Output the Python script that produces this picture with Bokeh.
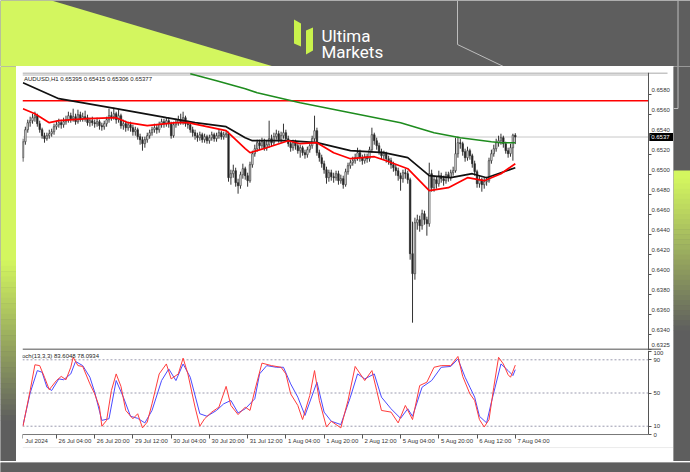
from bokeh.plotting import figure
from bokeh.models import (Range1d, FixedTicker, CustomJSTickFormatter, ColumnDataSource)
from bokeh.layouts import column, row
from bokeh.embed import file_html
from bokeh.resources import INLINE
from bokeh.core.properties import value

# ---------------- data (AUDUSD H1) ----------------
first_open = 0.6517
closes = [
    .6533, .6545, .6552, .6554, .6557, .6559, .6551, .6545, .6539, .6536,
    .6539, .6541, .6543, .6548, .6550, .6552, .6550, .6553, .6555, .6559,
    .6556, .6558, .6553, .6560, .6556, .6558, .6557, .6552, .6554, .6552,
    .6551, .6553, .6549, .6548, .6551, .6555, .6559, .6558, .6561, .6555,
    .6559, .6549, .6551, .6547, .6550, .6547, .6543, .6545, .6538, .6535,
    .6531, .6535, .6539, .6542, .6545, .6547, .6545, .6550, .6553, .6551,
    .6554, .6551, .6539, .6550, .6552, .6555, .6553, .6557, .6551, .6550,
    .6545, .6542, .6539, .6537, .6540, .6535, .6538, .6534, .6537, .6540,
    .6536, .6539, .6542, .6538, .6540, .6541, .6497, .6501, .6504, .6492,
    .6489, .6500, .6506, .6499, .6494, .6510, .6521, .6526, .6532, .6529,
    .6533, .6527, .6530, .6536, .6532, .6538, .6541, .6535, .6539, .6542,
    .6536, .6531, .6527, .6532, .6529, .6524, .6527, .6522, .6520, .6525,
    .6529, .6536, .6544, .6522, .6517, .6511, .6505, .6497, .6502, .6498,
    .6497, .6501, .6494, .6496, .6490, .6503, .6509, .6512, .6514, .6517,
    .6522, .6517, .6514, .6518, .6516, .6525, .6540, .6534, .6529, .6523,
    .6519, .6521, .6516, .6514, .6510, .6507, .6504, .6499, .6496, .6502,
    .6501, .6495, .6421, .6401, .6452, .6455, .6449, .6461, .6455, .6451,
    .6501, .6487, .6495, .6491, .6499, .6496, .6494, .6500, .6497, .6502,
    .6504, .6521, .6532, .6531, .6523, .6517, .6524, .6519, .6511, .6503,
    .6491, .6495, .6490, .6493, .6494, .6514, .6521, .6526, .6532, .6534,
    .6537, .6531, .6524, .6521, .6527, .65395, .65377]
highs = [
    .6536, .6548, .6555, .6558, .6561, .6563, .6561, .6554, .6547, .6542,
    .6542, .6545, .6546, .6551, .6554, .6556, .6555, .6557, .6559, .6563,
    .6562, .6566, .6561, .6565, .6563, .6562, .6564, .6560, .6557, .6558,
    .6555, .6557, .6555, .6552, .6554, .6558, .6566, .6563, .6567, .6563,
    .6565, .6561, .6555, .6554, .6553, .6553, .6550, .6548, .6547, .6541,
    .6538, .6538, .6542, .6545, .6548, .6551, .6550, .6553, .6556, .6556,
    .6557, .6557, .6553, .6553, .6556, .6559, .6561, .6563, .6559, .6554,
    .6552, .6548, .6545, .6542, .6543, .6542, .6541, .6540, .6540, .6543,
    .6542, .6542, .6545, .6544, .6543, .6544, .6543, .6505, .6510, .6507,
    .6496, .6503, .6511, .6508, .6502, .6513, .6524, .6530, .6535, .6535,
    .6537, .6536, .6534, .6554, .6540, .6542, .6545, .6544, .6543, .6551,
    .6545, .6539, .6534, .6535, .6535, .6532, .6530, .6529, .6525, .6528,
    .6532, .6539, .6559, .6547, .6525, .6520, .6514, .6508, .6505, .6505,
    .6502, .6504, .6504, .6500, .6499, .6506, .6512, .6515, .6518, .6521,
    .6527, .6525, .6520, .6521, .6521, .6528, .6547, .6542, .6537, .6532,
    .6526, .6524, .6523, .6519, .6517, .6513, .6510, .6507, .6502, .6505,
    .6506, .6504, .6497, .6453, .6457, .6460, .6459, .6465, .6464, .6458,
    .6512, .6505, .6499, .6498, .6504, .6502, .6499, .6503, .6503, .6505,
    .6508, .6537, .6538, .6536, .6533, .6526, .6528, .6526, .6521, .6514,
    .6505, .6499, .6497, .6497, .6498, .6517, .6525, .6530, .6536, .6539,
    .6541, .6539, .6533, .6527, .6531, .6541, .65415]
lows = [
    .6513, .6530, .6542, .6548, .6551, .6553, .6548, .6542, .6536, .6532,
    .6534, .6536, .6538, .6540, .6545, .6547, .6546, .6547, .6550, .6552,
    .6552, .6553, .6550, .6551, .6553, .6553, .6553, .6549, .6548, .6549,
    .6547, .6548, .6545, .6544, .6545, .6548, .6552, .6554, .6555, .6551,
    .6552, .6546, .6545, .6543, .6544, .6543, .6539, .6539, .6535, .6530,
    .6524, .6527, .6532, .6536, .6539, .6542, .6541, .6542, .6547, .6547,
    .6548, .6547, .6536, .6537, .6547, .6549, .6550, .6550, .6548, .6546,
    .6542, .6538, .6535, .6533, .6534, .6532, .6532, .6531, .6531, .6534,
    .6533, .6533, .6536, .6535, .6535, .6537, .6493, .6490, .6497, .6488,
    .6481, .6486, .6496, .6495, .6488, .6492, .6507, .6518, .6523, .6525,
    .6526, .6524, .6524, .6527, .6528, .6529, .6535, .6532, .6532, .6536,
    .6533, .6528, .6523, .6524, .6525, .6521, .6517, .6519, .6516, .6517,
    .6522, .6526, .6533, .6519, .6513, .6507, .6501, .6491, .6493, .6494,
    .6492, .6494, .6490, .6491, .6486, .6488, .6500, .6506, .6509, .6511,
    .6514, .6513, .6510, .6511, .6512, .6513, .6522, .6530, .6525, .6520,
    .6515, .6515, .6512, .6510, .6506, .6503, .6499, .6494, .6484, .6492,
    .6496, .6491, .6415, .6352, .6395, .6445, .6443, .6445, .6450, .6439,
    .6448, .6483, .6483, .6486, .6488, .6492, .6489, .6491, .6493, .6494,
    .6499, .6502, .6517, .6526, .6519, .6513, .6514, .6515, .6507, .6499,
    .6487, .6487, .6483, .6486, .6489, .6492, .6511, .6518, .6523, .6528,
    .6530, .6527, .6521, .6517, .6518, .6514, .65306]

# moving averages (bar index, price)
ma_green_idx = [70, 81, 93, 98, 116, 137, 158, 172, 183, 196, 200, 206]
ma_green_val = [0.6601, 0.6594, 0.6586, 0.6582, 0.6572, 0.6562, 0.6552, 0.6542, 0.6537, 0.6533, 0.6532, 0.6532]
ma_black_idx = [0, 15, 39, 60, 72, 85, 93, 96, 111, 123, 137, 151, 161, 170, 179, 188, 194, 200, 206]
ma_black_val = [0.6592, 0.6576, 0.6566, 0.6557, 0.6552, 0.6548, 0.6537, 0.6534, 0.6534, 0.6532, 0.6524,
                0.6522, 0.6517, 0.6499, 0.6497, 0.6501, 0.6497, 0.6502, 0.6507]
ma_red_idx = [0, 5, 11, 15, 27, 39, 44, 52, 64, 69, 79, 85, 93, 95, 102, 111, 116, 123, 130, 137, 147,
              152, 161, 170, 178, 186, 193, 200, 206]
ma_red_val = [0.6566, 0.6561, 0.6552, 0.6554, 0.6556, 0.6557, 0.6552, 0.6549, 0.6552, 0.6552, 0.6547,
              0.6544, 0.6526, 0.6522, 0.6527, 0.6534, 0.6531, 0.6532, 0.6522, 0.6516, 0.6518, 0.6514,
              0.6506, 0.6484, 0.6487, 0.6497, 0.6494, 0.6501, 0.6511]
resistance = 0.6574
last_price = 0.65377
last_price_tag = "0.6537"

# stochastic (13,3,3)
stoch_k_idx = [0, 3, 5, 7, 9, 11, 14, 16, 18, 20, 21, 23, 25, 28, 30, 32, 33, 35, 37, 39, 41, 43, 46, 48,
               50, 52, 54, 57, 60, 62, 65, 67, 69, 72, 74, 76, 79, 82, 85, 87, 90, 93, 95, 97, 100, 104,
               108, 110, 112, 115, 117, 120, 122, 124, 127, 129, 133, 136, 139, 143, 146, 148, 150, 154,
               157, 160, 163, 166, 169, 172, 175, 179, 182, 184, 187, 189, 191, 193, 195, 197, 199, 201,
               203, 204, 205, 206]
stoch_k_val = [10, 53, 84, 83, 69, 54, 65, 70, 66, 81, 93, 83, 82, 61, 49, 33, 10, 17, 53, 73, 58, 29, 19,
               25, 8, 15, 37, 73, 85, 67, 73, 92, 73, 33, 10, 19, 27, 33, 58, 35, 24, 33, 29, 53, 86, 83,
               81, 73, 49, 35, 18, 47, 77, 41, 9, 16, 8, 41, 82, 65, 77, 53, 29, 27, 14, 35, 18, 59, 63,
               81, 83, 83, 94, 70, 49, 41, 18, 9, 18, 57, 93, 85, 72, 69, 76, 83.6]
stoch_d_idx = [0, 3, 6, 8, 10, 12, 15, 17, 20, 22, 25, 28, 30, 33, 36, 39, 42, 45, 48, 51, 54, 58, 61, 64,
               67, 70, 74, 77, 81, 84, 87, 90, 93, 97, 99, 102, 106, 109, 112, 115, 118, 123, 126, 129,
               133, 137, 140, 143, 147, 150, 154, 158, 161, 163, 167, 171, 175, 179, 182, 185, 187, 189,
               191, 194, 196, 200, 203, 205, 206]
stoch_d_val = [11, 50, 77, 75, 57, 53, 67, 66, 73, 88, 83, 69, 51, 17, 19, 65, 45, 22, 19.5, 14, 29, 65,
               79, 65, 85, 69, 25, 22, 29, 37, 41, 26, 31, 43, 73, 83, 81, 81, 61, 45, 23, 63, 27, 16, 12,
               45, 73, 67, 73, 45, 31, 19.5, 31, 22, 57, 65, 81, 82, 91, 69, 57, 45, 22, 14, 39, 85, 77,
               71, 78.1]
stoch_levels = [10, 50, 90]
stoch_ticks = [0, 10, 50, 90, 100]

price_ticks = [0.6580, 0.6560, 0.6540, 0.6520, 0.6500, 0.6480, 0.6460, 0.6440, 0.6420, 0.6400,
               0.6380, 0.6360, 0.6340, 0.6325]
time_tick_idx = [0, 14, 30, 46, 62, 78, 94, 110, 126, 142, 158, 174, 190, 206]
time_tick_lbl = ["Jul 2024", "26 Jul 04:00", "26 Jul 20:00", "29 Jul 12:00", "30 Jul 04:00",
                 "30 Jul 20:00", "31 Jul 12:00", "1 Aug 04:00", "1 Aug 20:00", "2 Aug 12:00",
                 "5 Aug 04:00", "5 Aug 20:00", "6 Aug 12:00", "7 Aug 04:00"]

# ---------------- layout constants (not data) ----------------
BG = "#5e5e5e"
LIME = "#d3f65f"
LINE_GRAY = "#bdbdbd"
FONT = "Liberation Sans"
X0, X_AXIS, X_END = -0.2, 261.7, 272.2      # chart window left, price-scale line, card edge
P_LO, P_HI = 0.63242, 0.66022               # visible price window
S_LO, S_HI = -32.5, 101.2                   # stochastic window incl. time-label strip


def mix(c1, c2, t):
    a = [int(c1[i:i + 2], 16) for i in (1, 3, 5)]
    b = [int(c2[i:i + 2], 16) for i in (1, 3, 5)]
    return "#%02x%02x%02x" % tuple(round(a[k] + (b[k] - a[k]) * t) for k in range(3))


def deco_fig(w, h, x0, x1, y0, y1):
    # a decoration panel whose data units are page pixels (y grows downward)
    f = figure(width=w, height=h, x_range=Range1d(x0, x1), y_range=Range1d(y1, y0),
               toolbar_location=None, output_backend="svg", min_border=0,
               x_axis_location=None, y_axis_location=None,
               background_fill_color=BG, border_fill_color=BG, outline_line_color=None)
    f.grid.visible = False
    return f


def strip(f, x0, x1, bands):
    L, R, T, B, C = [], [], [], [], []
    for top, bot, c1, c2 in bands:
        steps = 1 if c1 == c2 else 30
        h = (bot - top) / steps
        for k in range(steps):
            L.append(x0); R.append(x1)
            T.append(top + k * h); B.append(top + (k + 1) * h + 0.5)
            C.append(mix(c1, c2, (k + 0.5) / steps))
    f.quad(left=L, right=R, top=T, bottom=B, fill_color=C, line_color=None)


# ---------------- header (logo band) ----------------
hdr = deco_fig(690, 66, 0, 690, 0, 66)
hdr.patch([0, 51, 273, 0], [0, 0, 66, 66], fill_color=LIME, line_color=None)
hdr.line([457, 457, 503], [0, 44, 66], line_color=LINE_GRAY, line_width=1)
hdr.line([677.5, 677.5], [0, 66], line_color=LINE_GRAY, line_width=1)
hdr.patch([293.5, 300.5, 300.5, 293.5], [19, 23, 46, 43], fill_color="#c9f24c", line_color=None)
hdr.patch([305.5, 312.5, 312.5, 305.5], [30, 27, 50, 54], fill_color="#c9f24c", line_color=None)
hdr.text(x=[321, 321], y=[35, 51], text=["Ultima", "Markets"], text_color="#ffffff",
         text_font=value("Roboto"), text_font_size="17px", text_baseline="alphabetic",
         text_align="left")

# ---------------- side strips ----------------
left = deco_fig(16, 395, 0, 16, 66, 461)
strip(left, 0, 16, [(66, 260, LIME, LIME), (260, 420, LIME, BG), (420, 461, BG, BG)])
right = deco_fig(17, 395, 673, 690, 66, 461)
strip(right, 673, 690, [(66, 170, BG, BG), (170, 178, LIME, LIME), (178, 330, LIME, BG),
                        (330, 461, BG, BG)])
right.line([677.5, 677.5, 673], [66, 108, 108], line_color=LINE_GRAY, line_width=1)

foot = deco_fig(690, 11, 0, 690, 461, 472)
foot.quad(left=[0], right=[690], top=[461], bottom=[472], fill_color=BG, line_color=None)


def style_axis(ax):
    ax.axis_line_color = "#555555"
    ax.major_tick_line_color = "#555555"
    ax.major_tick_out = 3
    ax.major_tick_in = 0
    ax.minor_tick_out = 0
    ax.minor_tick_in = 0
    ax.major_label_standoff = 2
    ax.major_label_text_font = FONT
    ax.major_label_text_font_size = "6px"
    ax.major_label_text_color = "#333333"


def hline(f, y, x1, color, width, dash="solid"):
    f.line([X0, x1], [y, y], line_color=color, line_width=width, line_dash=dash)


def small_text(f, xs, ys, texts, align="left", color="#333333", y_offset=0):
    f.text(x=xs, y=ys, text=texts, text_font=value(FONT), text_font_size="6px",
           text_color=color, text_baseline="middle", text_align=align, y_offset=y_offset)


# ---------------- price panel ----------------
n = len(closes)
opens = [first_open] + closes[:-1]
src = ColumnDataSource(dict(
    i=list(range(n)), h=highs, l=lows,
    top=[max(a, b) for a, b in zip(opens, closes)],
    bot=[min(a, b) for a, b in zip(opens, closes)],
    fill=["#ffffff" if c >= o else "#1e1e1e" for o, c in zip(opens, closes)],
))

xr = Range1d(X0, X_END)
pA = figure(width=657, height=284, x_range=xr, y_range=Range1d(P_LO, P_HI),
            x_axis_location=None, y_axis_location="right", toolbar_location=None,
            output_backend="svg", min_border_left=6, min_border_right=0,
            min_border_top=6, min_border_bottom=0, border_fill_color="#ffffff",
            background_fill_color="#ffffff", outline_line_color=None)
pA.xgrid.visible = False
pA.ygrid.visible = False

hline(pA, P_HI - 0.00005, 269.7, "#8c8c8c", 1)
hline(pA, P_HI - 0.00025, X_AXIS, "#b4b4b4", 1)
hline(pA, P_LO + 0.0001, 267.0, "#8a8a8a", 2)
hline(pA, last_price, X_AXIS, "#c8c8c8", 1)
pA.segment(x0="i", y0="l", x1="i", y1="h", source=src, line_color="#333333", line_width=1)
pA.vbar(x="i", width=0.62, top="top", bottom="bot", source=src, fill_color="fill",
        line_color="#333333", line_width=0.7)
hline(pA, resistance, X_AXIS, "#ff0000", 1.6)
pA.line(ma_green_idx, ma_green_val, line_color="#1e8c1e", line_width=1.6)
pA.line(ma_black_idx, ma_black_val, line_color="#111111", line_width=1.7)
pA.line(ma_red_idx, ma_red_val, line_color="#ff0000", line_width=1.7)

small_text(pA, [0.4], [P_HI - 0.0006], ["AUDUSD,H1  0.65395 0.65415 0.65306 0.65377"],
           color="#222222")

# price scale: the axis gives line and ticks; MT4 prints each value just above its tick
ya = pA.yaxis[0]
ya.ticker = FixedTicker(ticks=price_ticks)
ya.formatter = CustomJSTickFormatter(code="return ''")
ya.fixed_location = X_AXIS
style_axis(ya)
small_text(pA, [X_AXIS + 1.3] * len(price_ticks), price_ticks,
           ["%.4f" % t for t in price_ticks], y_offset=-5)

# current-price tag on the price scale
pA.rect(x=[(X_AXIS + 0.4 + X_END) / 2], y=[last_price], width=[X_END - X_AXIS - 0.4],
        height=[0.0008], fill_color="#000000", line_color=None)
small_text(pA, [X_AXIS + 1.2], [last_price], [last_price_tag], color="#ffffff")

# ---------------- stochastic panel (with time-label strip below) ----------------
pB = figure(width=657, height=111, x_range=xr, y_range=Range1d(S_LO, S_HI),
            x_axis_location="below", y_axis_location="right", toolbar_location=None,
            output_backend="svg", min_border_left=6, min_border_right=0,
            min_border_top=0, min_border_bottom=0, border_fill_color="#ffffff",
            background_fill_color="#ffffff", outline_line_color=None)
pB.xgrid.visible = False
pB.ygrid.visible = False

for lv in stoch_levels:
    hline(pB, lv, X_AXIS, "#9a9aae", 1, "2 2")
hline(pB, 0, X_AXIS, "#777777", 1)
hline(pB, -15.7, X_END, "#ececec", 1)
pB.line(stoch_d_idx, stoch_d_val, line_color="#4a4aff", line_width=1.0)
pB.line(stoch_k_idx, stoch_k_val, line_color="#ff3c3c", line_width=1.0)
small_text(pB, [-2.8], [94], ["Stoch(13,3,3) 83.6048 78.0934"], color="#222222")

yb = pB.yaxis[0]
yb.ticker = FixedTicker(ticks=stoch_ticks)
yb.fixed_location = X_AXIS
yb.bounds = (0, 101.2)
style_axis(yb)

# time scale: ticks from the axis, MT4-style labels to the right of each tick
xa = pB.xaxis[0]
xa.ticker = FixedTicker(ticks=time_tick_idx)
xa.formatter = CustomJSTickFormatter(code="return ''")
xa.fixed_location = 0
style_axis(xa)
xa.axis_line_color = None
xa.major_tick_out = 4
small_text(pB, [t + 0.9 for t in time_tick_idx], [-7.4] * len(time_tick_idx), time_tick_lbl)

layout = column(hdr, row(left, column(pA, pB), right), foot)

open("out.html", "w").write(file_html(layout, INLINE))
